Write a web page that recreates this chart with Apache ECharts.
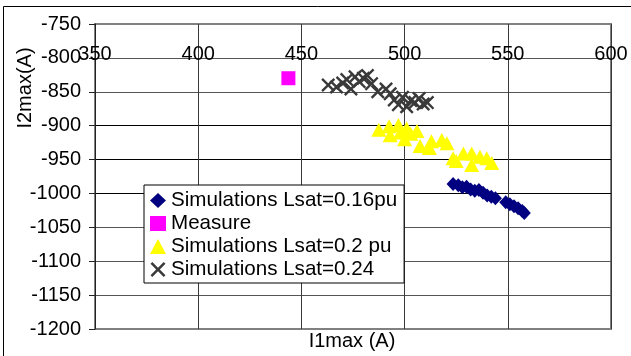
<!DOCTYPE html>
<html>
<head>
<meta charset="utf-8">
<script src="https://cdn.jsdelivr.net/npm/echarts@6/dist/echarts.min.js"></script>
<style>
  html, body { margin: 0; padding: 0; background: #fff; }
  #chart { width: 631px; height: 356px; }
</style>
</head>
<body>
<div id="chart"></div>
<script>
// Series names (legend order)
const seriesNames = [
  'Simulations Lsat=0.16pu',
  'Measure',
  'Simulations Lsat=0.2 pu',
  'Simulations Lsat=0.24'
];

// Axis ranges / ticks
const xTicks = [350, 400, 450, 500, 550, 600];
const yTicks = [-1200, -1150, -1100, -1050, -1000, -950, -900, -850, -800, -750];

// Lsat = 0.16 pu simulations: [I1max, I2max]
const sim016 = [
  [523.5, -986], [526, -988], [528, -991], [530, -990], [532, -994],
  [534, -996], [536, -995], [538, -999], [540, -1003], [542, -1005],
  [544, -1007], [549, -1013], [551, -1016], [553, -1019], [555, -1022],
  [557, -1026], [558, -1029]
];

// Measured point
const measure = [[443.7, -830]];

// Lsat = 0.2 pu simulations
const sim020 = [
  [487.5, -906], [492.5, -901], [493, -914], [497, -899], [498, -910],
  [500, -920], [501, -904], [503, -912], [506, -908], [507.5, -930],
  [512, -933], [513, -923], [518, -921], [520.5, -926], [523.5, -948],
  [525, -952], [528.5, -941], [532.5, -941], [532.5, -958], [536.5, -946],
  [539.8, -948], [542.2, -955]
];

// Lsat = 0.24 simulations
const sim024 = [
  [463, -840], [467, -843], [470, -837], [472, -832], [474, -846],
  [476, -828], [478, -835], [480, -830], [482, -826], [484, -838],
  [487, -850], [491, -846], [493, -853], [495, -862], [497, -869],
  [499, -858], [501, -872], [503, -863], [505, -866], [507, -860],
  [509, -868], [511, -866]
];

const FONT = '"Liberation Sans", Arial, sans-serif';
// "x" marker drawn as a filled outline of two crossing bars
const crossPath = 'path://M0,1.7L1.7,0L7,5.3L12.3,0L14,1.7L8.7,7L14,12.3L12.3,14L7,8.7L1.7,14L0,12.3L5.3,7Z';

const chart = echarts.init(document.getElementById('chart'), null, { renderer: 'canvas' });

const hColors = ['#808080', '#555', '#555', '#555', '#000', '#000', '#000', '#555', '#555', '#808080'];

chart.setOption({
  animation: false,
  backgroundColor: '#fff',
  textStyle: { fontFamily: FONT },
  grid: {
    left: 95, right: 20, top: 24, bottom: 27,
    show: true, borderColor: '#808080', borderWidth: 2, backgroundColor: '#fff'
  },
  xAxis: {
    type: 'value',
    position: 'top',
    min: xTicks[0], max: xTicks[xTicks.length - 1], interval: 50,
    axisLine: { show: false },
    axisTick: { show: false },
    axisLabel: {
      inside: true, margin: 30, verticalAlign: 'middle',
      fontSize: 20, color: '#000', fontFamily: FONT,
      formatter: v => String(v)
    },
    splitLine: { show: true, lineStyle: { color: '#3a3a3a', width: 1 } }
  },
  yAxis: {
    type: 'value',
    min: yTicks[0], max: yTicks[yTicks.length - 1], interval: 50,
    axisLine: { show: true, lineStyle: { color: '#222', width: 1 } },
    axisTick: { show: true, length: 6, lineStyle: { color: '#222' } },
    axisLabel: {
      margin: 14, fontSize: 20, color: '#000', fontFamily: FONT,
      formatter: v => String(v)
    },
    splitLine: { show: true, lineStyle: { color: hColors, width: 1 } }
  },
  legend: {
    orient: 'vertical',
    left: 144, top: 185,
    padding: [4, 7, 2, 6],
    itemGap: 0,
    itemWidth: 16, itemHeight: 15,
    backgroundColor: '#fff',
    borderColor: '#000', borderWidth: 1,
    textStyle: { fontSize: 20.6, lineHeight: 23, color: '#000', fontFamily: FONT },
    data: seriesNames
  },
  graphic: [
    {
      type: 'rect', silent: true, z: -1,
      shape: { x: 3.5, y: 6.5, width: 700, height: 400 },
      style: { fill: 'none', stroke: '#000', lineWidth: 1 }
    },
    {
      type: 'text', x: 25, y: 88, rotation: Math.PI / 2,
      style: {
        text: 'I2max(A)', fontSize: 20, fontFamily: FONT, fill: '#000',
        align: 'center', verticalAlign: 'middle'
      }
    },
    {
      type: 'text', x: 352, y: 341,
      style: {
        text: 'I1max (A)', fontSize: 20, fontFamily: FONT, fill: '#000',
        align: 'center', verticalAlign: 'middle'
      }
    }
  ],
  series: [
    {
      name: seriesNames[0], type: 'scatter', data: sim016,
      symbol: 'diamond', symbolSize: [13, 14],
      itemStyle: { color: '#000080', opacity: 1 }
    },
    {
      name: seriesNames[1], type: 'scatter', data: measure,
      symbol: 'rect', symbolSize: 14,
      itemStyle: { color: '#FF00FF', opacity: 1 }
    },
    {
      name: seriesNames[2], type: 'scatter', data: sim020,
      symbol: 'triangle', symbolSize: [15, 14],
      itemStyle: { color: '#FFFF00', opacity: 1 }
    },
    {
      name: seriesNames[3], type: 'scatter', data: sim024,
      symbol: crossPath, symbolSize: 14,
      itemStyle: { color: '#3a3a3a', opacity: 1 }
    }
  ]
});
</script>
</body>
</html>
